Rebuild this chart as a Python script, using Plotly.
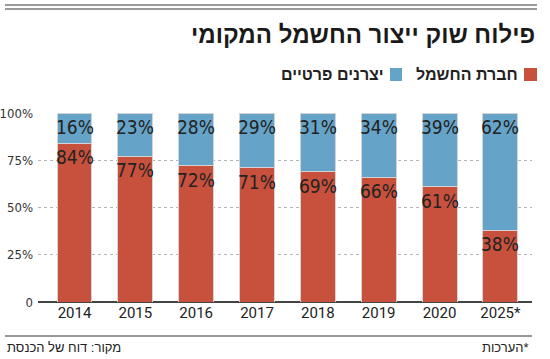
import plotly.graph_objects as go

years = ["2014", "2015", "2016", "2017", "2018", "2019", "2020", "2025*"]
iec = [84, 77, 72, 71, 69, 66, 61, 38]          # חברת החשמל
private = [16, 23, 28, 29, 31, 34, 39, 62]      # יצרנים פרטיים
yticks = [0, 25, 50, 75, 100]
yticklabels = ["0", "25%", "50%", "75%", "100%"]

RED = "#C8513D"
BLUE = "#66A3C8"
NARROW = "Liberation Sans Narrow, DejaVu Sans Condensed, Roboto, sans-serif"
HEB = "Liberation Sans, DejaVu Sans, sans-serif"

W, H = 550, 359
L, R, T, B = 38, 18, 113, 57
pw, ph = W - L - R, H - T - B

def px(x):
    return (x - L) / pw

def py(y):
    return (H - B - y) / ph

xs = list(range(len(years)))
fig = go.Figure()
fig.add_bar(x=xs, y=iec, marker=dict(color=RED, line=dict(color="#d4d4d4", width=1)),
            width=0.575, name="חברת החשמל", hoverinfo="skip")
fig.add_bar(x=xs, y=private, marker=dict(color=BLUE, line=dict(color="#d4d4d4", width=1)),
            width=0.575, name="יצרנים פרטיים", hoverinfo="skip")

ann = []
for i, (a, b) in enumerate(zip(iec, private)):
    ann.append(dict(x=i, y=a, xref="x", yref="y", text=f"{a}%", showarrow=False,
                    yanchor="top", yshift=-1, font=dict(family=NARROW, size=19, color="#222")))
    ann.append(dict(x=i, y=a + b, xref="x", yref="y", text=f"{b}%", showarrow=False,
                    yanchor="top", yshift=-1, font=dict(family=NARROW, size=19, color="#222")))

# title
ann.append(dict(x=px(537), y=py(35), xref="paper", yref="paper", xanchor="right", yanchor="middle",
                text="<b>פילוח שוק ייצור החשמל המקומי</b>", showarrow=False,
                font=dict(family=HEB, size=24, color="#1a1a1a")))
# legend texts
ann.append(dict(x=px(520), y=py(74), xref="paper", yref="paper", xanchor="right", yanchor="middle",
                text="<b>חברת החשמל</b>", showarrow=False, font=dict(family=HEB, size=16, color="#222")))
ann.append(dict(x=px(386), y=py(74), xref="paper", yref="paper", xanchor="right", yanchor="middle",
                text="<b>יצרנים פרטיים</b>", showarrow=False, font=dict(family=HEB, size=16, color="#222")))
# footer
ann.append(dict(x=px(5), y=py(347), xref="paper", yref="paper", xanchor="left", yanchor="middle",
                text="מקור: דוח של הכנסת", showarrow=False, font=dict(family=HEB, size=13, color="#222")))
ann.append(dict(x=px(531), y=py(347), xref="paper", yref="paper", xanchor="right", yanchor="middle",
                text="הערכות*", showarrow=False, font=dict(family=HEB, size=13, color="#222")))

shapes = [
    dict(type="line", xref="paper", yref="paper", x0=px(5), x1=px(537), y0=py(5), y1=py(5),
         line=dict(color="#777", width=1.5)),
    dict(type="line", xref="paper", yref="paper", x0=px(5), x1=px(537), y0=py(9), y1=py(9),
         line=dict(color="#777", width=1.5)),
    dict(type="line", xref="paper", yref="paper", x0=px(5), x1=px(532), y0=py(336), y1=py(336),
         line=dict(color="#333", width=1.2)),
    dict(type="rect", xref="paper", yref="paper", x0=px(524), x1=px(537), y0=py(68), y1=py(81),
         fillcolor=RED, line=dict(width=0)),
    dict(type="rect", xref="paper", yref="paper", x0=px(390), x1=px(402), y0=py(68), y1=py(81),
         fillcolor=BLUE, line=dict(width=0)),
]

fig.update_layout(
    width=W, height=H, barmode="stack", showlegend=False,
    margin=dict(l=L, r=R, t=T, b=B, autoexpand=False),
    paper_bgcolor="white", plot_bgcolor="white",
    annotations=ann, shapes=shapes,
    xaxis=dict(range=[-0.6, 7.52], tickmode="array", tickvals=xs, ticktext=years,
               showgrid=False, zeroline=False, showline=False, ticks="", automargin=False,
               tickfont=dict(family="Roboto, Liberation Sans, sans-serif", size=15, color="#222")),
    yaxis=dict(range=[0, 100], tickmode="array", tickvals=yticks, ticktext=yticklabels,
               showgrid=True, gridcolor="#b5b5b5", griddash="dot", gridwidth=1,
               zeroline=True, zerolinecolor="#444", zerolinewidth=1.5, showline=False,
               ticks="", ticklabelstandoff=4, automargin=False,
               tickfont=dict(family=NARROW, size=13, color="#333")),
)
fig.write_html("out.html", config={"displayModeBar": False},
               post_script="document.body.style.margin='0';document.body.style.overflow='hidden';")
